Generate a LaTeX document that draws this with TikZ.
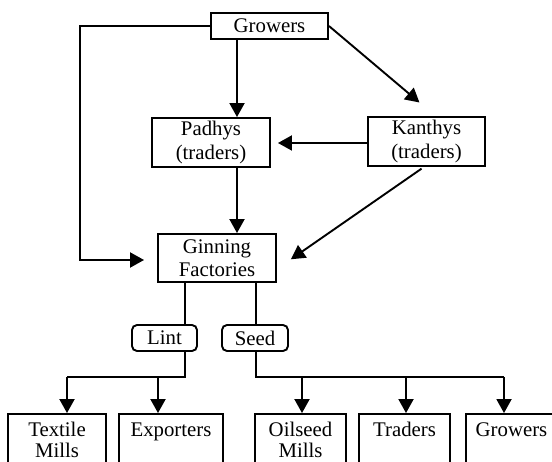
\documentclass[tikz,border=0pt]{standalone}
\usepackage{fontspec}
\setmainfont{Liberation Serif}
\usetikzlibrary{arrows.meta,calc}
\begin{document}
\begin{tikzpicture}[x=1pt,y=-1pt,
 box/.style={draw,line width=1.9pt,inner sep=0pt,align=center,font=\fontsize{20.8}{23.5}\selectfont},
 rbox/.style={box,rounded corners=5pt},
 bbox/.style={box,font=\fontsize{20.8}{21}\selectfont,minimum height=52pt},
 conn/.style={line width=1.9pt,line join=miter},
 arr/.style={conn,-{Triangle[length=14pt,width=15pt]}}]
\useasboundingbox (0,0) rectangle (552,462);
\clip (0,0) rectangle (552,462);
\fill[white] (0,0) rectangle (552,462);
% nodes
\node[box,minimum width=117pt,minimum height=26pt] (grow) at (269.5,26) {Growers};
\node[box,minimum width=118pt,minimum height=49pt] (pad) at (211,142.5) {Padhys\\(traders)};
\node[box,minimum width=117pt,minimum height=49pt] (kan) at (426.5,141.5) {Kanthys\\(traders)};
\node[box,minimum width=118pt,minimum height=48pt] (gin) at (217,258) {Ginning\\Factories};
\node[rbox,minimum width=65pt,minimum height=26pt] (lint) at (164.5,338) {Lint};
\node[rbox,minimum width=66pt,minimum height=26pt] (seed) at (255,338) {Seed};
\node[bbox,minimum width=98pt] (tex) at (57,440) {Textile\\Mills};
\node[bbox,minimum width=104pt] (exp) at (171,440) {Exporters\\\mbox{}};
\node[bbox,minimum width=91pt] (oil) at (300.5,440) {Oilseed\\Mills};
\node[bbox,minimum width=91pt] (trd) at (404.5,440) {Traders\\\mbox{}};
\node[bbox,minimum width=91pt] (grw) at (511.5,440) {Growers\\\mbox{}};
% helper coordinates
\coordinate (xa) at (237,0);
\coordinate (kx) at (435.5,0);
\coordinate (kx2) at (424,0);
\coordinate (gy) at (0,269);
\coordinate (lc) at (80,260);
\coordinate (xl) at (185,0);
\coordinate (xs) at (256,0);
\coordinate (yb) at (0,377);
\coordinate (x1) at (67,0);
\coordinate (x2) at (158,0);
\coordinate (x3) at (302,0);
\coordinate (x4) at (406,0);
\coordinate (x5) at (504,0);
% connectors
\draw[arr] (grow.south -| xa) -- (pad.north -| xa);
\draw[arr] (pad.south -| xa) -- (gin.north -| xa);
\draw[arr,shorten >=21pt] (grow.east) -- (kan.north -| kx);
\draw[arr,shorten >=7pt] (kan.west |- 0,143) -- (pad.east |- 0,143);
\draw[arr,shorten <=3pt,shorten >=17pt] (kan.south -| kx2) -- (gin.east |- gy);
\draw[arr,shorten >=13pt] (grow.west) -| (lc) -- (lc -| gin.west);
% lint branch
\draw[conn] (gin.south -| xl) -- (lint.north -| xl);
\draw[conn] (lint.south -| xl) -- (yb -| xl) -- (yb -| x1);
\draw[arr] (yb -| x1) -- (tex.north -| x1);
\draw[arr] (yb -| x2) -- (exp.north -| x2);
% seed branch
\draw[conn] (gin.south -| xs) -- (seed.north -| xs);
\draw[conn] (seed.south -| xs) -- (yb -| xs) -- (yb -| x5);
\draw[arr] (yb -| x3) -- (oil.north -| x3);
\draw[arr] (yb -| x4) -- (trd.north -| x4);
\draw[arr] (yb -| x5) -- (grw.north -| x5);
\end{tikzpicture}
\end{document}
